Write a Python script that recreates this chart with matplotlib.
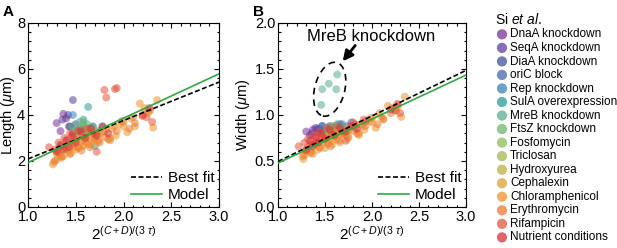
import matplotlib
matplotlib.use("Agg")
import matplotlib.pyplot as plt
from matplotlib.patches import Ellipse
from matplotlib.ticker import MultipleLocator, FormatStrFormatter
import numpy as np

plt.rcParams['font.family'] = ['Liberation Sans', 'DejaVu Sans']
plt.rcParams['mathtext.fontset'] = 'custom'
plt.rcParams['mathtext.rm'] = 'Liberation Sans'
plt.rcParams['mathtext.it'] = 'Liberation Sans:italic'
plt.rcParams['mathtext.bf'] = 'Liberation Sans:bold'

# ---------------- data ----------------
categories = ["DnaA knockdown", "SeqA knockdown", "DiaA knockdown", "oriC block",
              "Rep knockdown", "SulA overexpression", "MreB knockdown", "FtsZ knockdown",
              "Fosfomycin", "Triclosan", "Hydroxyurea", "Cephalexin",
              "Chloramphenicol", "Erythromycin", "Rifampicin", "Nutrient conditions"]
colors = ["#7b3294", "#5c3d9c", "#44509f", "#4365b0", "#3a80bf", "#2a9d9a",
          "#5aae8e", "#6cb86e", "#8cbb5a", "#a6b64d", "#bfae44", "#dba23a",
          "#f0922b", "#ee7a35", "#e8553a", "#d7303a"]

x_dnaa = [1.30, 1.34, 1.37, 1.40, 1.43, 1.47]
L_dnaa = [3.65, 3.30, 4.05, 3.85, 3.50, 3.20]
W_dnaa = [0.82, 0.78, 0.84, 0.86, 0.80, 0.83]

x_seqa = [1.36, 1.42, 1.47, 1.52]
L_seqa = [3.80, 4.00, 4.65, 3.30]
W_seqa = [0.80, 0.85, 0.88, 0.82]

x_diaa = [1.44, 1.50, 1.55, 1.60]
L_diaa = [3.50, 3.60, 3.30, 3.40]
W_diaa = [0.85, 0.82, 0.88, 0.84]

x_oric = [1.55, 1.62, 1.68, 1.74]
L_oric = [3.40, 3.20, 3.50, 3.30]
W_oric = [0.86, 0.84, 0.90, 0.88]

x_rep = [1.47, 1.58, 1.66, 1.78]
L_rep = [4.00, 3.55, 3.45, 3.50]
W_rep = [0.88, 0.86, 0.90, 0.92]

x_sula = [1.58, 1.63, 1.70]
L_sula = [3.80, 4.35, 2.65]
W_sula = [0.86, 0.90, 0.80]

x_mreb = [1.46, 1.47, 1.54, 1.62, 1.63]
L_mreb = [3.50, 3.30, 3.70, 3.60, 3.40]
W_mreb = [1.11, 1.28, 1.34, 1.28, 1.44]

x_ftsz = [1.52, 1.58, 1.62, 1.68]
L_ftsz = [3.40, 3.70, 3.30, 3.50]
W_ftsz = [0.84, 0.88, 0.82, 0.86]

x_fosf = [1.50, 1.57, 1.65]
L_fosf = [3.20, 3.50, 3.30]
W_fosf = [0.80, 0.85, 0.82]

x_tric = [1.54, 1.62, 1.72]
L_tric = [3.00, 3.40, 3.20]
W_tric = [0.78, 0.83, 0.82]

x_hydr = [1.48, 1.58, 1.70]
L_hydr = [2.90, 3.10, 3.25]
W_hydr = [0.76, 0.80, 0.84]

x_ceph = [1.30, 1.38, 1.45, 1.52, 1.60, 1.68, 1.75, 1.82, 1.90, 1.98, 2.10, 2.25,
          1.27, 1.35, 1.42, 1.50, 1.58, 1.66, 1.74, 1.86]
L_ceph = [2.30, 2.60, 2.75, 2.95, 3.10, 3.00, 3.30, 3.40, 3.50, 3.75, 3.90, 4.20,
          1.95, 2.20, 2.45, 2.50, 2.65, 2.70, 2.90, 3.00]
W_ceph = [0.62, 0.68, 0.72, 0.76, 0.80, 0.79, 0.84, 0.86, 0.88, 0.93, 0.98, 1.05,
          0.52, 0.58, 0.62, 0.64, 0.68, 0.70, 0.74, 0.78]

x_chlo = [1.26, 1.30, 1.33, 1.37, 1.40, 1.42, 1.45, 1.48, 1.50, 1.53, 1.55, 1.58,
          1.60, 1.63, 1.66, 1.70, 1.73, 1.76, 1.80, 1.84, 1.88, 1.92, 1.96, 2.00,
          2.04, 2.08, 2.12, 2.17, 2.22, 2.26, 2.31, 2.35]
L_chlo = [1.85, 2.05, 2.30, 2.20, 2.50, 2.70, 2.35, 2.60, 2.90, 2.55, 2.80, 2.70,
          3.00, 2.75, 2.90, 3.10, 2.85, 3.20, 3.30, 2.95, 3.40, 3.10, 3.60, 3.50,
          3.25, 3.85, 3.50, 4.50, 4.30, 4.10, 3.45, 4.65]
W_chlo = [0.55, 0.60, 0.62, 0.58, 0.68, 0.72, 0.64, 0.70, 0.76, 0.68, 0.74, 0.72,
          0.80, 0.74, 0.78, 0.82, 0.78, 0.85, 0.88, 0.80, 0.90, 0.84, 0.95, 0.92,
          0.86, 1.02, 0.95, 1.10, 1.08, 1.05, 0.98, 1.20]

x_eryt = [1.28, 1.32, 1.35, 1.40, 1.44, 1.47, 1.52, 1.56, 1.60, 1.65, 1.70, 1.75,
          1.80, 1.86, 1.93, 2.00, 2.06, 2.12, 2.20, 2.28]
L_eryt = [2.00, 2.40, 2.15, 2.55, 2.30, 2.75, 2.60, 2.45, 2.85, 2.60, 2.95, 2.80,
          3.05, 2.90, 3.30, 3.70, 3.40, 3.65, 3.95, 4.20]
W_eryt = [0.56, 0.66, 0.60, 0.70, 0.65, 0.74, 0.70, 0.66, 0.77, 0.72, 0.80, 0.76,
          0.83, 0.80, 0.88, 0.97, 0.90, 0.96, 1.02, 1.10]

x_rifa = [1.22, 1.28, 1.32, 1.35, 1.38, 1.41, 1.44, 1.48, 1.52, 1.57, 1.62, 1.68,
          1.72, 1.80, 1.82, 1.91, 1.93, 2.24, 2.30]
L_rifa = [2.60, 2.50, 2.80, 2.65, 3.00, 2.90, 3.20, 3.00, 3.30, 3.10, 3.40, 3.20,
          2.40, 5.09, 4.76, 5.13, 5.17, 3.90, 3.70]
W_rifa = [0.66, 0.70, 0.74, 0.68, 0.78, 0.72, 0.82, 0.76, 0.86, 0.80, 0.88, 0.83,
          0.72, 0.92, 0.90, 0.95, 0.93, 1.05, 1.02]

x_nutr = [1.30, 1.34, 1.37, 1.40, 1.43, 1.46, 1.50, 1.55, 1.60, 1.66, 1.72, 1.78,
          1.84, 2.20, 2.27]
L_nutr = [2.40, 2.70, 2.50, 2.90, 2.60, 3.10, 2.80, 3.30, 3.00, 3.40, 3.10, 3.50,
          3.20, 4.00, 4.30]
W_nutr = [0.62, 0.72, 0.66, 0.76, 0.70, 0.80, 0.74, 0.84, 0.78, 0.86, 0.82, 0.88,
          0.85, 1.06, 1.12]

xs = [x_dnaa, x_seqa, x_diaa, x_oric, x_rep, x_sula, x_mreb, x_ftsz, x_fosf,
      x_tric, x_hydr, x_ceph, x_chlo, x_eryt, x_rifa, x_nutr]
Ls = [L_dnaa, L_seqa, L_diaa, L_oric, L_rep, L_sula, L_mreb, L_ftsz, L_fosf,
      L_tric, L_hydr, L_ceph, L_chlo, L_eryt, L_rifa, L_nutr]
Ws = [W_dnaa, W_seqa, W_diaa, W_oric, W_rep, W_sula, W_mreb, W_ftsz, W_fosf,
      W_tric, W_hydr, W_ceph, W_chlo, W_eryt, W_rifa, W_nutr]

# line fits: (slope, intercept)
length_bestfit = (1.67, 0.42)
length_model = (1.93, 0.0)
width_bestfit = (0.495, 0.0)
width_model = (0.478, 0.0)
line_x = [1.0, 3.0]

# ---------------- figure ----------------
fig = plt.figure(figsize=(6.17, 2.48), dpi=100)
axA = fig.add_axes([28/617, 1-207/248, 191/617, 184/248])
axB = fig.add_axes([278/617, 1-207/248, 188/617, 184/248])

for ax, ys in ((axA, Ls), (axB, Ws)):
    for xv, yv, c, lab in zip(xs, ys, colors, categories):
        ax.scatter(xv, yv, s=32, color=c, alpha=0.55, edgecolors='none', label=lab, zorder=2)

lx = np.array(line_x)
for ax, bf, md in ((axA, length_bestfit, length_model), (axB, width_bestfit, width_model)):
    hb, = ax.plot(lx, bf[0]*lx + bf[1], color='black', ls=(0, (3, 1.5)), lw=1.2, zorder=3)
    hm, = ax.plot(lx, md[0]*lx + md[1], color='#2eaa3f', lw=1.2, zorder=3)
    ax.legend([hb, hm], ["Best fit", "Model"], loc='lower right', frameon=False,
              fontsize=11, handlelength=2.0, handletextpad=0.4, borderpad=0.2,
              labelspacing=0.2, borderaxespad=0.1)

for ax in (axA, axB):
    ax.set_xlim(1.0, 3.0)
    ax.xaxis.set_major_locator(MultipleLocator(0.5))
    ax.xaxis.set_minor_locator(MultipleLocator(0.1))
    ax.xaxis.set_major_formatter(FormatStrFormatter('%.1f'))
axA.set_ylim(0, 8)
axB.set_ylim(0, 2.0)
axA.yaxis.set_major_locator(MultipleLocator(2))
axA.yaxis.set_minor_locator(MultipleLocator(0.4))
axA.yaxis.set_major_formatter(FormatStrFormatter('%d'))
axB.yaxis.set_major_locator(MultipleLocator(0.5))
axB.yaxis.set_minor_locator(MultipleLocator(0.1))
axB.yaxis.set_major_formatter(FormatStrFormatter('%.1f'))

for ax in (axA, axB):
    ax.tick_params(which='both', direction='in', top=True, right=True, labelsize=10.5,
                   pad=2, width=0.8)
    ax.tick_params(which='major', length=3.5)
    ax.tick_params(which='minor', length=1.8)
    for sp in ax.spines.values():
        sp.set_linewidth(0.8)
    ax.set_xlabel(r"$2^{(C+D)/(3\ \tau)}$", fontsize=11, labelpad=1)

axA.set_ylabel(r"Length ($\mu$m)", fontsize=10.5, labelpad=0)
axB.set_ylabel(r"Width ($\mu$m)", fontsize=10.5, labelpad=2)

# MreB annotation
ell = Ellipse((1.55, 1.28), width=0.32, height=0.6, angle=-14, fill=False,
              ls=(0, (4, 3)), lw=1.2, color='black', zorder=4)
axB.add_patch(ell)
axB.text(1.99, 1.85, "MreB knockdown", ha='center', va='center', fontsize=12)
axB.annotate("", xy=(1.67, 1.56), xytext=(1.84, 1.78),
             arrowprops=dict(arrowstyle='-|>,head_length=0.6,head_width=0.3',
                             color='black', lw=2.0))

# panel letters
fig.text(3/617, 1-12/248, "A", fontsize=11, fontweight='bold', va='center', ha='left')
fig.text(253/617, 1-12/248, "B", fontsize=11, fontweight='bold', va='center', ha='left')

# legend
handles, labels = axA.get_legend_handles_labels()
handles = handles[:16]
labels = labels[:16]
leg = fig.legend(handles, labels, loc='upper left', bbox_to_anchor=(489/617, 1-6/248),
                 frameon=False, fontsize=8.5, markerscale=1.3, handletextpad=0.1,
                 labelspacing=0.13, borderpad=0, handlelength=1.2,
                 title=r"Si $\it{et\ al}$.", title_fontsize=10)
leg._legend_box.align = "left"
for h in leg.legend_handles:
    h.set_alpha(0.75)

fig.savefig("out.png", dpi=100)
